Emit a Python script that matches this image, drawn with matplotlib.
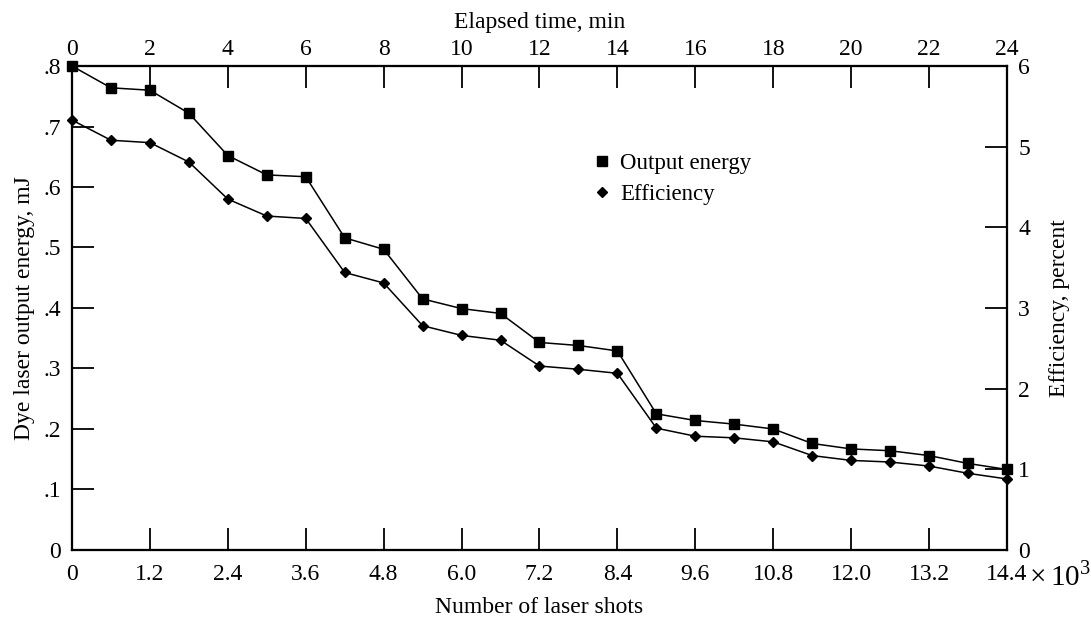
import matplotlib
matplotlib.use("Agg")
import matplotlib.pyplot as plt
from matplotlib.lines import Line2D

plt.rcParams['font.family'] = ['Liberation Serif', 'DejaVu Serif']
plt.rcParams['mathtext.fontset'] = 'custom'
plt.rcParams['mathtext.rm'] = 'Liberation Serif'

# elapsed time, min (one reading per minute)
minutes = list(range(25))
# laser shots, x10^3 (600 shots per minute)
shots = [m * 0.6 for m in minutes]

output_energy = [0.800, 0.764, 0.760, 0.722, 0.652, 0.620, 0.617, 0.516, 0.497,
                 0.415, 0.399, 0.391, 0.343, 0.338, 0.329, 0.225, 0.214, 0.208,
                 0.200, 0.176, 0.167, 0.164, 0.156, 0.143, 0.133]
efficiency = [5.33, 5.08, 5.05, 4.81, 4.35, 4.14, 4.11, 3.44, 3.31,
              2.78, 2.66, 2.60, 2.28, 2.24, 2.19, 1.51, 1.41, 1.39,
              1.34, 1.17, 1.11, 1.09, 1.04, 0.95, 0.88]

shot_ticks = [0, 1.2, 2.4, 3.6, 4.8, 6.0, 7.2, 8.4, 9.6, 10.8, 12.0, 13.2, 14.4]
shot_labels = ['0', '1.2', '2.4', '3.6', '4.8', '6.0', '7.2', '8.4', '9.6',
               '10.8', '12.0', '13.2', '14.4']
energy_ticks = [0, 0.1, 0.2, 0.3, 0.4, 0.5, 0.6, 0.7, 0.8]
energy_labels = ['0', '.1', '.2', '.3', '.4', '.5', '.6', '.7', '.8']
eff_ticks = [0, 1, 2, 3, 4, 5, 6]
time_ticks = list(range(0, 25, 2))

FS = 17

fig = plt.figure(figsize=(10.91, 6.20), dpi=100)
ax = fig.add_axes([0.066, 0.113, 0.857, 0.7805])

ax.plot(shots, output_energy, color='black', lw=1.1, marker='s', ms=6.5,
        clip_on=False, zorder=5)
ax.set_xlim(0, 14.4)
ax.set_ylim(0, 0.8)
ax.set_xticks(shot_ticks)
ax.set_xticklabels(shot_labels)
ax.set_yticks(energy_ticks)
ax.set_yticklabels(energy_labels)
ax.set_xlabel('Number of laser shots', fontsize=FS, labelpad=9)
ax.set_ylabel('Dye laser output energy, mJ', fontsize=FS, labelpad=6)
# "x 10^3" multiplier after the last shot tick
ax.annotate(r'$\times\,\mathrm{10}^{3}$', xy=(1, 0), xycoords='axes fraction',
            xytext=(16, -8), textcoords='offset points', fontsize=FS + 4,
            ha='left', va='top')

ax2 = ax.twinx()
ax2.plot(shots, efficiency, color='black', lw=1.1, marker='D', ms=5,
         clip_on=False, zorder=5)
ax2.set_ylim(0, 6)
ax2.set_yticks(eff_ticks)
ax2.set_ylabel('Efficiency, percent', fontsize=FS, labelpad=14)

ax3 = ax.twiny()
ax3.set_xlim(0, 24)
ax3.set_xticks(time_ticks)
ax3.set_xlabel('Elapsed time, min', fontsize=FS, labelpad=8)

for a in (ax, ax2, ax3):
    a.tick_params(direction='in', length=16, width=1.3, labelsize=FS)
    for s in a.spines.values():
        s.set_linewidth(1.5)
ax.tick_params(axis='x', pad=10)
ax.tick_params(axis='y', pad=8)
ax2.tick_params(axis='y', pad=8)
ax3.tick_params(axis='x', pad=4)

handles = [Line2D([], [], color='black', marker='s', ls='none', ms=6.5),
           Line2D([], [], color='black', marker='D', ls='none', ms=5)]
ax.legend(handles, ['Output energy', 'Efficiency'], loc='upper left',
          bbox_to_anchor=(0.547, 0.84), frameon=False, fontsize=16.5,
          handlelength=0.8, handletextpad=0.4, labelspacing=0.45,
          borderaxespad=0)

fig.savefig('out.png', dpi=100)
